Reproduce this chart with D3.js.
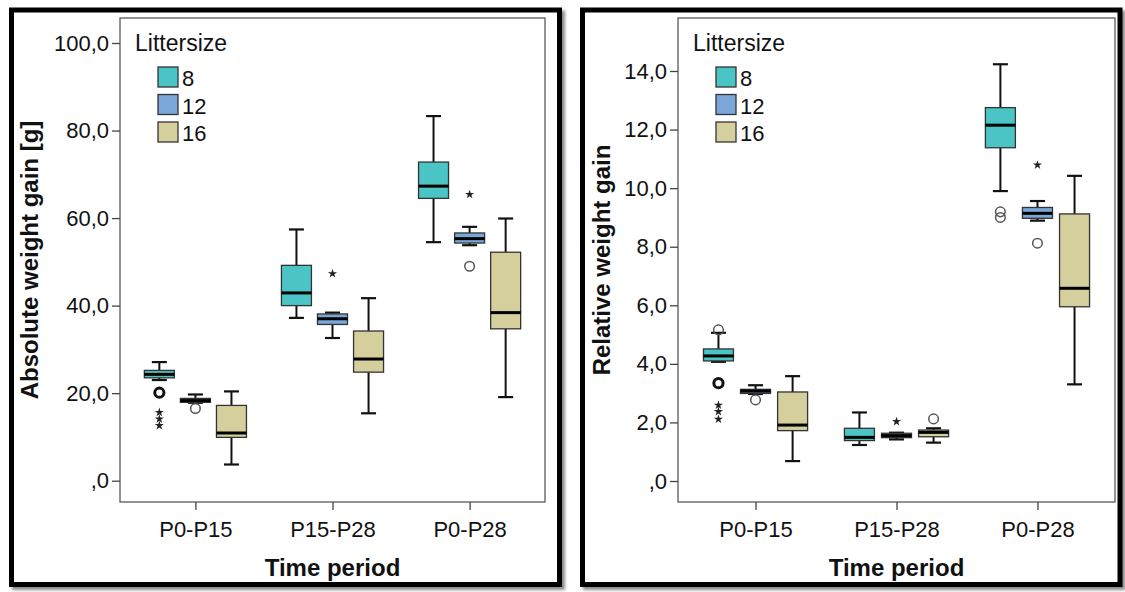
<!DOCTYPE html>
<html>
<head>
<meta charset="utf-8">
<script src="https://cdn.jsdelivr.net/npm/d3@7"></script>
<style>
  html, body { margin: 0; padding: 0; background: #fff; }
  svg { display: block; font-family: "Liberation Sans", Arial, sans-serif; }
</style>
</head>
<body>
<svg id="chart" width="1125" height="592"></svg>
<script>
// ---- data -------------------------------------------------------------
const periods = ["P0-P15", "P15-P28", "P0-P28"];
const litterSizes = ["8", "12", "16"];

// Absolute weight gain [g]; rows = time period, columns = litter size
const absLower  = [[23.0, 17.8,  3.7], [37.2, 32.6, 15.4], [54.5, 53.8, 19.1]];
const absQ1     = [[23.5, 17.9,  9.9], [40.0, 35.7, 24.8], [64.5, 54.3, 34.7]];
const absMedian = [[24.3, 18.3, 10.9], [42.9, 37.0, 27.8], [67.3, 55.3, 38.4]];
const absQ3     = [[25.2, 18.8, 17.2], [49.2, 38.1, 34.2], [72.8, 56.6, 52.2]];
const absUpper  = [[27.1, 19.7, 20.4], [57.4, 38.4, 41.7], [83.3, 58.0, 59.9]];
// outliers: [period, litter, value, cases]
const absOutliers = [[0, 0, 20.1, 2], [0, 1, 16.5, 1], [2, 1, 49.0, 1]];
// extreme values: [period, litter, value]
const absExtremes = [[0, 0, 15.6], [0, 0, 14.1], [0, 0, 12.6], [1, 1, 47.3], [2, 1, 65.4]];
const absSignificance = [32.6, 63.2, 88.5];
const absTicks = [0, 20, 40, 60, 80, 100];

// Relative weight gain
const relLower  = [[4.07, 2.97, 0.68], [1.23, 1.42, 1.31], [ 9.90, 8.89,  3.30]];
const relQ1     = [[4.10, 2.99, 1.72], [1.38, 1.48, 1.51], [11.38, 8.97,  5.95]];
const relMedian = [[4.27, 3.07, 1.91], [1.49, 1.55, 1.66], [12.15, 9.14,  6.58]];
const relQ3     = [[4.51, 3.13, 3.04], [1.80, 1.63, 1.74], [12.75, 9.34,  9.12]];
const relUpper  = [[5.06, 3.27, 3.58], [2.34, 1.65, 1.80], [14.23, 9.56, 10.42]];
const relOutliers = [[0, 0, 5.16, 1], [0, 0, 3.34, 2], [0, 1, 2.77, 1], [1, 2, 2.12, 1],
                     [2, 0, 9.19, 1], [2, 0, 9.00, 1], [2, 1, 8.12, 1]];
const relExtremes = [[0, 0, 2.59], [0, 0, 2.37], [0, 0, 2.11], [1, 1, 2.03], [2, 1, 10.79]];
const relSignificance = [5.76, null, 14.85];
const relTicks = [0, 2, 4, 6, 8, 10, 12, 14];

const litterColors = ["#4ac4c4", "#7aa6d8", "#d4cf9c"];

// ---- helpers ----------------------------------------------------------
const svg = d3.select("#chart");
const defs = svg.append("defs");

defs.append("filter").attr("id", "frameShadow")
  .attr("x", "-5%").attr("y", "-5%").attr("width", "110%").attr("height", "110%")
  .append("feDropShadow").attr("dx", 3).attr("dy", 3).attr("stdDeviation", 1.5)
  .attr("flood-color", "#000").attr("flood-opacity", 0.45);

defs.append("filter").attr("id", "lineShadow")
  .attr("x", "-10%").attr("y", "-200%").attr("width", "120%").attr("height", "500%")
  .append("feDropShadow").attr("dx", 1).attr("dy", 2).attr("stdDeviation", 1.2)
  .attr("flood-color", "#000").attr("flood-opacity", 0.35);

// "20,0" style labels, zero shown as ",0"
const fmt = v => {
  let s = v.toFixed(1).replace(".", ",");
  if (s.startsWith("0,")) s = s.slice(1);
  return s;
};

const colorScale = d3.scaleOrdinal().domain(litterSizes).range(litterColors);

function drawPanel(cfg) {
  const g = svg.append("g");

  // outer framed panel
  g.append("rect")
    .attr("x", cfg.frame[0]).attr("y", cfg.frame[1])
    .attr("width", cfg.frame[2]).attr("height", cfg.frame[3])
    .attr("fill", "#fff").attr("stroke", "#000").attr("stroke-width", 5)
    .attr("filter", "url(#frameShadow)");

  const x = d3.scalePoint().domain(periods).range([cfg.x0, cfg.x1]).padding(0.55);
  const step = x.step();
  const inner = d3.scalePoint().domain(litterSizes).range([-step * 0.263, step * 0.263]);
  const y = d3.scaleLinear().domain(cfg.yDomain).range(cfg.yRange);
  const boxW = 30, capW = 15;

  // plot area border
  g.append("rect")
    .attr("x", cfg.x0).attr("y", cfg.y0)
    .attr("width", cfg.x1 - cfg.x0).attr("height", cfg.y1 - cfg.y0)
    .attr("fill", "none").attr("stroke", "#666").attr("stroke-width", 1.4);

  // y axis
  const yAxis = g.append("g").attr("transform", `translate(${cfg.x0},0)`)
    .call(d3.axisLeft(y).tickValues(cfg.ticks).tickSize(8).tickPadding(3).tickFormat(fmt));
  yAxis.select(".domain").remove();
  yAxis.selectAll(".tick line").attr("stroke", "#444").attr("stroke-width", 1.3);
  yAxis.selectAll(".tick text").attr("font-size", 22).attr("fill", "#111")
    .attr("font-family", "Liberation Sans, Arial, sans-serif");

  // x axis
  const xAxis = g.append("g").attr("transform", `translate(0,${cfg.y1})`)
    .call(d3.axisBottom(x).tickSize(8).tickPadding(11));
  xAxis.select(".domain").remove();
  xAxis.selectAll(".tick line").attr("stroke", "#444").attr("stroke-width", 1.3);
  xAxis.selectAll(".tick text").attr("font-size", 22).attr("fill", "#111")
    .attr("font-family", "Liberation Sans, Arial, sans-serif");

  // axis titles
  g.append("text")
    .attr("x", (cfg.x0 + cfg.x1) / 2).attr("y", cfg.xTitleY)
    .attr("text-anchor", "middle").attr("font-size", 24).attr("font-weight", "bold")
    .attr("fill", "#111").text("Time period");
  g.append("text")
    .attr("transform", `translate(${cfg.yTitleX},${(cfg.y0 + cfg.y1) / 2}) rotate(-90)`)
    .attr("text-anchor", "middle").attr("font-size", 24).attr("font-weight", "bold")
    .attr("fill", "#111").text(cfg.yTitle);

  // box records
  const boxes = [];
  periods.forEach((p, i) => litterSizes.forEach((l, j) => {
    boxes.push({
      period: p, litter: l,
      lo: cfg.lower[i][j], q1: cfg.q1[i][j], med: cfg.median[i][j],
      q3: cfg.q3[i][j], hi: cfg.upper[i][j]
    });
  }));
  const cx = d => x(d.period) + inner(d.litter);

  const bg = g.append("g");
  const box = bg.selectAll("g.box").data(boxes).join("g").attr("class", "box");

  // whiskers
  box.append("line")
    .attr("x1", cx).attr("x2", cx)
    .attr("y1", d => y(d.hi)).attr("y2", d => y(d.q3))
    .attr("stroke", "#111").attr("stroke-width", 2);
  box.append("line")
    .attr("x1", cx).attr("x2", cx)
    .attr("y1", d => y(d.q1)).attr("y2", d => y(d.lo))
    .attr("stroke", "#111").attr("stroke-width", 2);
  box.append("line")
    .attr("x1", d => cx(d) - capW / 2).attr("x2", d => cx(d) + capW / 2)
    .attr("y1", d => y(d.hi)).attr("y2", d => y(d.hi))
    .attr("stroke", "#111").attr("stroke-width", 2.2);
  box.append("line")
    .attr("x1", d => cx(d) - capW / 2).attr("x2", d => cx(d) + capW / 2)
    .attr("y1", d => y(d.lo)).attr("y2", d => y(d.lo))
    .attr("stroke", "#111").attr("stroke-width", 2.2);

  // boxes
  box.append("rect")
    .attr("x", d => cx(d) - boxW / 2).attr("width", boxW)
    .attr("y", d => y(d.q3)).attr("height", d => y(d.q1) - y(d.q3))
    .attr("fill", d => colorScale(d.litter))
    .attr("stroke", "#333").attr("stroke-width", 1.3);

  // medians
  box.append("line")
    .attr("x1", d => cx(d) - boxW / 2).attr("x2", d => cx(d) + boxW / 2)
    .attr("y1", d => y(d.med)).attr("y2", d => y(d.med))
    .attr("stroke", "#000").attr("stroke-width", 3);

  // outliers (circles)
  g.append("g").selectAll("circle").data(cfg.outliers).join("circle")
    .attr("cx", d => x(periods[d[0]]) + inner(litterSizes[d[1]]))
    .attr("cy", d => y(d[2]))
    .attr("r", d => d[3] > 1 ? 4.6 : 4.8)
    .attr("fill", "none")
    .attr("stroke", d => d[3] > 1 ? "#111" : "#555")
    .attr("stroke-width", d => d[3] > 1 ? 3 : 1.5);

  // extreme values (stars)
  g.append("g").selectAll("path").data(cfg.extremes).join("path")
    .attr("transform", d => `translate(${x(periods[d[0]]) + inner(litterSizes[d[1]])},${y(d[2])})`)
    .attr("d", d3.symbol(d3.symbolStar, 26))
    .attr("fill", "#222");

  // significance bars
  const sig = periods.map((p, i) => ({ period: p, v: cfg.significance[i] }))
    .filter(d => d.v !== null);
  g.append("g").selectAll("line").data(sig).join("line")
    .attr("x1", d => x(d.period) + inner(litterSizes[0]))
    .attr("x2", d => x(d.period) + inner(litterSizes[2]))
    .attr("y1", d => y(d.v)).attr("y2", d => y(d.v))
    .attr("stroke", "#c40000").attr("stroke-width", 4)
    .attr("filter", "url(#lineShadow)");

  // legend
  const lg = g.append("g").attr("transform", `translate(${cfg.x0},0)`);
  lg.append("text").attr("x", 15).attr("y", 51)
    .attr("font-size", 23).attr("fill", "#111").text("Littersize");
  const item = lg.selectAll("g.item").data(litterSizes).join("g")
    .attr("class", "item")
    .attr("transform", (d, i) => `translate(38,${67 + i * 27.5})`);
  item.append("rect").attr("width", 20).attr("height", 20)
    .attr("fill", d => colorScale(d)).attr("stroke", "#333").attr("stroke-width", 1.3);
  item.append("text").attr("x", 24).attr("y", 19)
    .attr("font-size", 22).attr("fill", "#111").text(d => d);
}

drawPanel({
  frame: [11.5, 10, 548, 574.5],
  x0: 120, x1: 545, y0: 18, y1: 502,
  yDomain: [0, 100], yRange: [480.7, 43],
  ticks: absTicks,
  yTitle: "Absolute weight gain [g]", yTitleX: 38, xTitleY: 576,
  lower: absLower, q1: absQ1, median: absMedian, q3: absQ3, upper: absUpper,
  outliers: absOutliers, extremes: absExtremes, significance: absSignificance
});

drawPanel({
  frame: [582.5, 10, 537.5, 574.5],
  x0: 678, x1: 1115, y0: 18, y1: 502,
  yDomain: [0, 14], yRange: [481, 71],
  ticks: relTicks,
  yTitle: "Relative weight gain", yTitleX: 610, xTitleY: 576,
  lower: relLower, q1: relQ1, median: relMedian, q3: relQ3, upper: relUpper,
  outliers: relOutliers, extremes: relExtremes, significance: relSignificance
});
</script>
</body>
</html>
